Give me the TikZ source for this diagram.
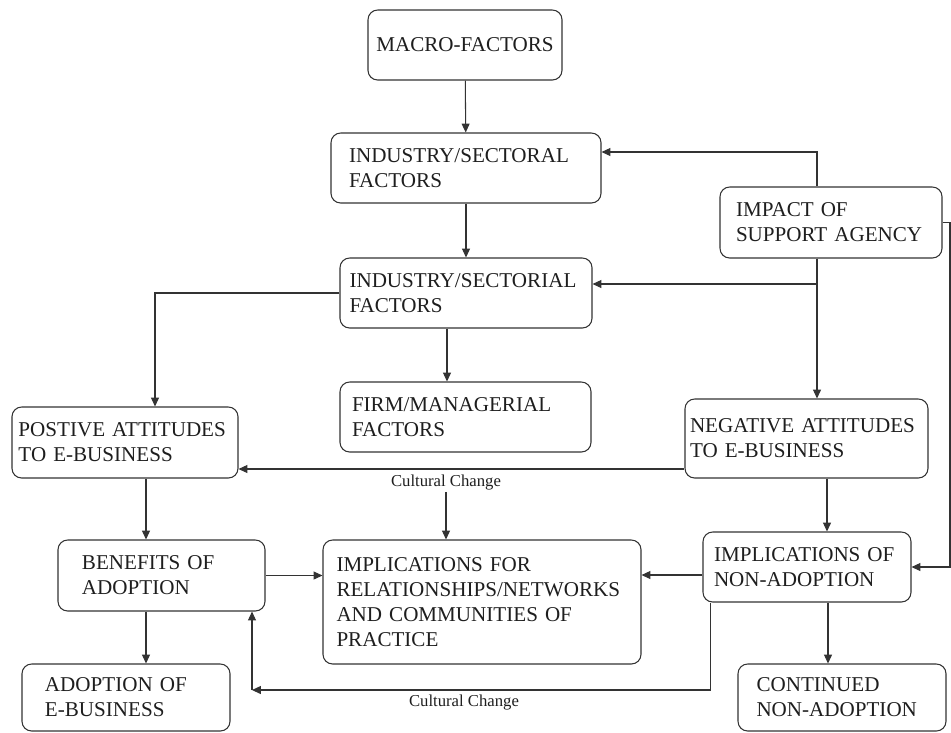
\documentclass[tikz,border=0pt]{standalone}
\usepackage{fontspec}
\setmainfont{Liberation Serif}
\usetikzlibrary{arrows.meta, positioning}
\definecolor{inkgray}{HTML}{333333}
\definecolor{inktext}{HTML}{1E1E1E}

\begin{document}
\begin{tikzpicture}[x=0.2mm, y=-0.2mm, line width=.6pt,
  box/.style={draw=inkgray, rounded corners=5.5pt, align=left, text=inktext, font=\fontsize{12}{14.2}\selectfont, inner ysep=0pt},
  arr/.style={draw=inkgray, -{Triangle[length=5pt,width=4.5pt]}},
  note/.style={text=inktext, font=\fontsize{9.5}{11}\selectfont, inner sep=1pt}]
\useasboundingbox (0,0) rectangle (951,732);
% Boxes
\node[box, align=center, minimum width=38.8mm, minimum height=14mm] (macro) at (465,45) {MACRO-FACTORS};
\node[box, text width=46.8mm, inner xsep=3.6mm, minimum height=14mm] (sectoral) at (466,168) {INDUSTRY/SECTORAL\\FACTORS};
\node[box, text width=46.6mm, inner xsep=1.9mm, minimum height=14mm] (sectorial) at (466,293) {INDUSTRY/SECTORIAL\\FACTORS};
\node[box, text width=45.4mm, inner xsep=2.4mm, minimum height=14mm] (firm) at (465.5,417) {FIRM/MANAGERIAL\\FACTORS};
\node[box, text width=38mm, inner xsep=3.2mm, minimum height=14.2mm] (impact) at (831,222.5) {IMPACT OF\\SUPPORT AGENCY};
\node[box, text width=42.6mm, inner xsep=1.3mm, minimum height=14.2mm] (postive) at (125,442.5) {POSTIVE ATTITUDES\\TO E-BUSINESS};
\node[box, text width=46.6mm, inner xsep=1mm, minimum height=15.8mm] (negative) at (806.5,438.5) {NEGATIVE ATTITUDES\\TO E-BUSINESS};
\node[box, text width=31.8mm, inner xsep=4.8mm, minimum height=14.2mm] (benefits) at (161.5,575.5) {BENEFITS OF\\ADOPTION};
\node[box, text width=58.2mm, inner xsep=2.7mm, minimum height=24.8mm] (implfor) at (482,602) {IMPLICATIONS FOR\\RELATIONSHIPS/NETWORKS\\AND COMMUNITIES OF\\PRACTICE};
\node[box, text width=37.2mm, inner xsep=2.2mm, minimum height=14mm] (implof) at (807,567) {IMPLICATIONS OF\\NON-ADOPTION};
\node[box, text width=32.4mm, inner xsep=4.6mm, minimum height=13.4mm] (adoption) at (126,697.5) {ADOPTION OF\\E-BUSINESS};
\node[box, text width=34.2mm, inner xsep=3.7mm, minimum height=13.4mm] (continued) at (842,697.5) {CONTINUED\\NON-ADOPTION};
% Labels
\node[note] (cc1) at (446,482) {Cultural Change};
\node[note] (cc2) at (464,702) {Cultural Change};
\coordinate (rim) at (950,0);
\coordinate (loop) at (252,690);
% Arrows
\draw[arr] (macro) -- (sectoral);
\draw[arr] (sectoral) -- (sectorial);
\draw[arr] ([xshift=-3.8mm]sectorial.south) -- ([xshift=-3.8mm]sectorial.south |- firm.north);
\draw[arr] (sectorial.west) -| ([xshift=6mm]postive.north);
\draw[arr] ([xshift=-2.8mm]impact.north) |- ([yshift=3.2mm]sectoral.east);
\draw[arr] ([xshift=-2.8mm]impact.south) |- ([yshift=1.8mm]sectorial.east);
\draw[arr] ([xshift=-2.8mm]impact.south) -- ([xshift=-2.8mm]impact.south |- negative.north);
\draw[arr] (impact.east) -- (impact.east -| rim) |- (implof.east);
\draw[arr] ([yshift=-6.1mm]negative.west) -- ([yshift=-6.1mm]negative.west -| postive.east);
\draw[arr] (cc1.south) -- (cc1 |- implfor.north);
\draw[arr] ([xshift=4.2mm]postive.south) -- ([xshift=4.2mm]postive.south |- benefits.north);
\draw[arr] ([xshift=-3.1mm]benefits.south) -- ([xshift=-3.1mm]benefits.south |- adoption.north);
\draw[arr] (benefits.east) -- (benefits.east -| implfor.west);
\draw[arr] ([yshift=-1.6mm]implof.west) -- ([yshift=-1.6mm]implof.west -| implfor.east);
\draw[arr] ([xshift=4.1mm]negative.south) -- ([xshift=4.1mm]negative.south |- implof.north);
\draw[arr] ([xshift=4.2mm]implof.south) -- ([xshift=4.2mm]implof.south |- continued.north);
\draw[arr] ([xshift=1.6mm]implof.south west) |- (loop);
\draw[arr] (loop) -- (loop |- benefits.south);
\end{tikzpicture}
\end{document}
